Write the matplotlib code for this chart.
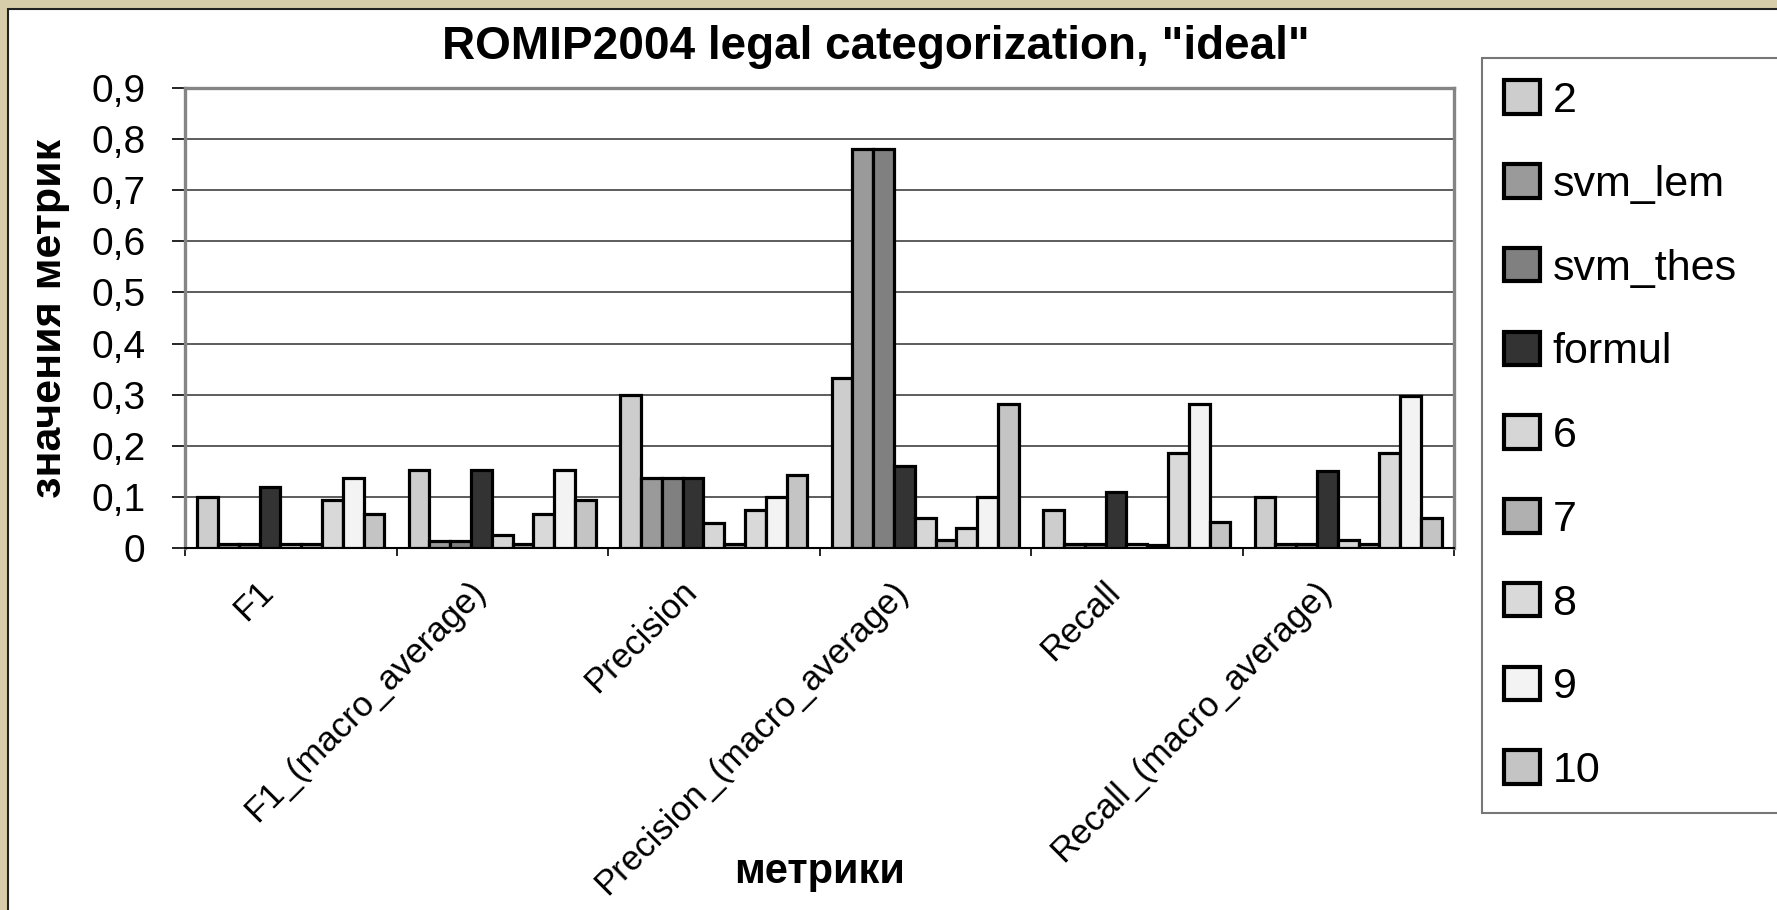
import matplotlib
matplotlib.use('Agg')
from matplotlib import pyplot as plt
from matplotlib.patches import Rectangle
from matplotlib.transforms import ScaledTranslation
import numpy as np

plt.rcParams['font.family'] = ['Liberation Sans', 'DejaVu Sans']

# data
metrics = ['F1', 'F1_(macro_average)', 'Precision', 'Precision_(macro_average)',
           'Recall', 'Recall_(macro_average)']
series = ['2', 'svm_lem', 'svm_thes', 'formul', '6', '7', '8', '9', '10']
values = {
    '2':        [0.100, 0.153, 0.300, 0.333, 0.074, 0.100],
    'svm_lem':  [0.008, 0.014, 0.136, 0.780, 0.007, 0.007],
    'svm_thes': [0.008, 0.014, 0.136, 0.780, 0.007, 0.007],
    'formul':   [0.119, 0.153, 0.136, 0.161, 0.109, 0.151],
    '6':        [0.008, 0.025, 0.048, 0.058, 0.007, 0.016],
    '7':        [0.008, 0.008, 0.008, 0.016, 0.006, 0.007],
    '8':        [0.093, 0.067, 0.074, 0.040, 0.186, 0.186],
    '9':        [0.136, 0.153, 0.100, 0.100, 0.281, 0.298],
    '10':       [0.067, 0.093, 0.143, 0.282, 0.050, 0.058],
}
fills = ['#cdcdcd', '#9a9a9a', '#808080', '#333333', '#d6d6d6',
         '#b0b0b0', '#d9d9d9', '#f3f3f3', '#c4c4c4']
y_ticks = [0, 0.1, 0.2, 0.3, 0.4, 0.5, 0.6, 0.7, 0.8, 0.9]
y_ticklabels = ['0', '0,1', '0,2', '0,3', '0,4', '0,5', '0,6', '0,7', '0,8', '0,9']

W, H = 1777, 910
fig = plt.figure(figsize=(W / 100, H / 100), dpi=100, facecolor='#d8cdaa')
# white chart area
fig.patches.append(Rectangle((8 / W, -0.02), 1.05, 1 - 9 / H + 0.02,
                             transform=fig.transFigure, facecolor='white',
                             edgecolor='#222222', linewidth=1.5, zorder=-10))

ax = fig.add_axes([185 / W, 1 - 548 / H, (1454 - 185) / W, (548 - 88) / H])
ax.set_facecolor('white')

n = len(series)
bw = 0.0983
x = np.arange(len(metrics)) + 0.5
for j, (name, color) in enumerate(zip(series, fills)):
    ax.bar(x + (j - (n - 1) / 2) * bw, values[name], width=bw, color=color,
           edgecolor='black', linewidth=2.3, label=name, zorder=3)

ax.set_xlim(0, len(metrics))
ax.set_ylim(0, 0.9)
ax.set_yticks(y_ticks)
ax.set_yticklabels(y_ticklabels)
ax.yaxis.grid(True, color='#303030', linewidth=1.1)
ax.set_axisbelow(True)

ax.set_xticks(np.arange(len(metrics) + 1))
ax.set_xticklabels([])
ax.set_xticks(x, minor=True)
ax.set_xticklabels(metrics, minor=True, rotation=45, ha='right', va='top',
                   rotation_mode='anchor')
ax.tick_params(axis='x', which='major', length=6, width=1.2, direction='out')
ax.tick_params(axis='x', which='minor', length=0, pad=28, labelsize=25)
ax.tick_params(axis='y', length=9.5, width=1.2, direction='out', pad=19, labelsize=28)
# excel puts the rotated labels a bit left of the category centre
shift = ScaledTranslation(-0.34, 0.12, fig.dpi_scale_trans)
for lab in ax.get_xticklabels(minor=True):
    lab.set_transform(lab.get_transform() + shift)

for s in ['left', 'top', 'right']:
    ax.spines[s].set_color('#858585')
    ax.spines[s].set_linewidth(2.4)
ax.spines['bottom'].set_color('black')
ax.spines['bottom'].set_linewidth(1.5)

ax.set_ylabel('значения метрик', fontsize=31, fontweight='bold', va='center')
ax.yaxis.set_label_coords((50 - 185) / 1269, 0.5)
ax.set_xlabel('метрики', fontsize=30, fontweight='bold', va='center')
ax.xaxis.set_label_coords(0.5, (548 - 872) / 460)

fig.text(876 / W, 1 - 47 / H, 'ROMIP2004 legal categorization, "ideal"',
         fontsize=33, fontweight='bold', ha='center', va='center')

leg = ax.legend(loc='upper left', bbox_to_anchor=(1482 / W, 0, 330 / W, 1 - 58 / H),
                bbox_transform=fig.transFigure, mode='expand', fontsize=31,
                frameon=True, fancybox=False, edgecolor='#555555',
                handlelength=0.82, handleheight=0.82, handletextpad=0.3,
                labelspacing=1.0, borderpad=0.52, borderaxespad=0)
leg.get_frame().set_linewidth(1.5)
for h in leg.legend_handles:
    h.set_linewidth(3)

plt.savefig('out.png', dpi=100, facecolor=fig.get_facecolor())
